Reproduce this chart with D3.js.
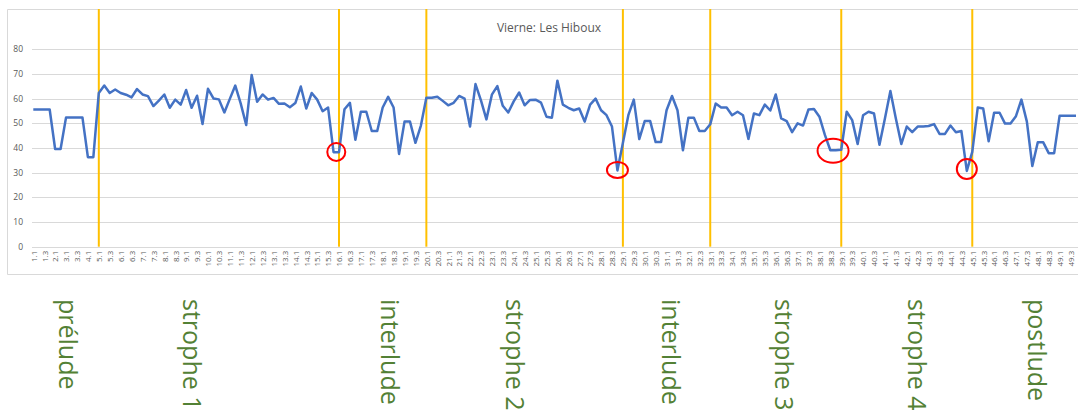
<!DOCTYPE html>
<html>
<head>
<meta charset="utf-8">
<script src="https://cdn.jsdelivr.net/npm/d3@7"></script>
<style>
  body { margin: 0; background: #fff; }
  svg { display: block; font-family: "Open Sans", sans-serif; }
</style>
</head>
<body>
<div id="chart"></div>
<script>

// beats per measure, the x labels are "measure.beat"
var measureBeats = [4, 2, 4, 2,
    4, 4, 4, 4, 4, 4, 4, 4, 4, 4, 4, 4, 4, 4, 4,
    4, 4, 4, 4, 4, 4, 4, 4, 4, 4, 4, 4, 4, 4, 4,
    4, 4, 4, 4, 4, 4, 4, 4, 4, 4, 4, 4, 4, 4, 4];

var values = [
    55.6, 55.6, 55.6, 55.6, 39.6, 39.6, 52.4, 52.4, 52.4, 52.4, 36.3, 36.3,
    62.3, 65.3, 62.3, 63.7, 62.3, 61.6, 60.5, 63.9, 61.7, 61.0, 57.0, 59.2,
    61.7, 56.3, 59.6, 57.6, 63.5, 56.3, 61.2, 49.7, 64.0, 60.1, 59.7, 54.4,
    59.9, 65.3, 58.0, 49.3, 69.6, 58.7, 61.7, 59.6, 60.3, 57.9, 58.0, 56.5,
    58.2, 64.9, 56.0, 62.3, 59.6, 54.9, 56.4, 38.3, 38.3, 55.7, 58.3, 43.3,
    54.7, 54.7, 46.9, 46.9, 56.4, 60.7, 56.4, 37.6, 50.7, 50.7, 42.1, 49.1,
    60.4, 60.4, 60.8, 59.1, 57.3, 58.3, 61.1, 60.0, 48.7, 65.9, 59.3, 51.6,
    61.6, 65.1, 57.1, 54.4, 58.9, 62.5, 57.3, 59.5, 59.6, 58.4, 52.7, 52.3,
    67.3, 57.6, 56.3, 55.3, 56.0, 50.7, 57.6, 60.0, 55.3, 53.3, 48.7, 30.9,
    42.0, 53.3, 59.6, 43.6, 50.9, 50.9, 42.4, 42.4, 55.3, 61.1, 55.3, 39.1,
    52.3, 52.3, 46.9, 46.9, 49.6, 58.0, 56.4, 56.4, 53.3, 54.7, 53.3, 43.7,
    54.0, 53.3, 57.6, 55.2, 61.7, 52.0, 50.9, 46.4, 50.0, 49.1, 55.6, 55.8,
    52.7, 45.3, 39.1, 39.1, 39.3, 54.7, 51.3, 41.6, 53.3, 54.7, 54.0, 41.3,
    52.0, 63.1, 52.0, 41.6, 48.7, 46.4, 48.7, 48.7, 48.9, 49.7, 45.7, 45.7,
    49.1, 46.4, 46.9, 30.7, 38.4, 56.4, 56.0, 42.7, 54.3, 54.3, 49.9, 49.9,
    52.9, 59.6, 50.7, 32.7, 42.3, 42.3, 37.9, 37.9, 53.1, 53.1, 53.1, 53.1];

var yTicks = [0, 10, 20, 30, 40, 50, 60, 70, 80];
var title = 'Vierne: Les Hiboux';

// yellow section boundaries
var boundaries = ['5.1', '16.1', '20.1', '29.1', '33.1', '39.1', '45.1'];
var sections = ['prélude', 'strophe 1', 'interlude', 'strophe 2', 'interlude', 'strophe 3', 'strophe 4', 'postlude'];

// red circles : categories they sit on and the value at their centre
var circleCats = [['15.4', '16.1'], ['28.4'], ['38.3', '38.4'], ['44.4']];
var circleVals = [38.4, 31.1, 38.9, 31.5];

// layout
var width = 1081;
var height = 418;
var plotLeft = 32;
var plotRight = 1078;
var sectionX = [68, 192, 390, 515, 671, 784, 917, 1037];
var circleR = [[9, 9], [10.5, 8], [15.5, 12], [10, 10]];

var cats = [];
measureBeats.forEach((n, m) => {
    for (var b = 1; b <= n; b++) cats.push((m + 1) + '.' + b);
});
var data = cats.map((c, i) => ({cat: c, value: values[i]}));

var svg = d3.select('#chart').append('svg')
    .attr('width', width)
    .attr('height', height);

var x = d3.scalePoint().domain(cats).range([33.3, 1076]);
var y = d3.scaleLinear().domain([0, 80]).range([246.7, 49.3]);

// chart border
svg.append('path')
    .attr('d', `M${plotRight},9.5H7.5V274.5H${plotRight}`)
    .attr('fill', 'none')
    .attr('stroke', '#d9d9d9');

// gridlines
svg.append('g')
    .selectAll('line')
    .data(yTicks)
    .join('line')
    .attr('x1', plotLeft)
    .attr('x2', plotRight)
    .attr('y1', d => Math.round(y(d)) + 0.5)
    .attr('y2', d => Math.round(y(d)) + 0.5)
    .attr('stroke', '#d9d9d9');

svg.append('g')
    .selectAll('text')
    .data(yTicks)
    .join('text')
    .attr('x', 23)
    .attr('y', d => y(d))
    .attr('dy', '0.35em')
    .attr('text-anchor', 'end')
    .attr('font-size', '8.5px')
    .attr('fill', '#595959')
    .text(d => d);

// x axis labels, every other category
var xAxis = d3.axisBottom(x)
    .tickValues(cats.filter((c, i) => i % 2 == 0))
    .tickSize(0);

var gx = svg.append('g')
    .attr('transform', `translate(0,${y(0)})`)
    .call(xAxis);
gx.select('.domain').remove();
gx.selectAll('text')
    .attr('transform', 'rotate(-90)')
    .attr('text-anchor', 'end')
    .attr('x', -4)
    .attr('y', 0)
    .attr('dy', '0.35em')
    .attr('font-family', '"Open Sans", sans-serif')
    .attr('font-size', '8px')
    .attr('fill', '#595959');

// title
svg.append('text')
    .attr('x', 549)
    .attr('y', 32)
    .attr('text-anchor', 'middle')
    .attr('font-size', '12px')
    .attr('fill', '#595959')
    .text(title);

// section boundaries
svg.append('g')
    .selectAll('line')
    .data(boundaries)
    .join('line')
    .attr('x1', d => x(d))
    .attr('x2', d => x(d))
    .attr('y1', 9)
    .attr('y2', y(0))
    .attr('stroke', '#ffc000')
    .attr('stroke-width', 2);

// the line
var line = d3.line()
    .x(d => x(d.cat))
    .y(d => y(d.value));

svg.append('path')
    .datum(data)
    .attr('d', line)
    .attr('fill', 'none')
    .attr('stroke', '#4472c4')
    .attr('stroke-width', 2.5)
    .attr('stroke-linejoin', 'round');

// red circles
svg.append('g')
    .selectAll('ellipse')
    .data(circleCats)
    .join('ellipse')
    .attr('cx', d => d3.mean(d, c => x(c)))
    .attr('cy', (d, i) => y(circleVals[i]))
    .attr('rx', (d, i) => circleR[i][0])
    .attr('ry', (d, i) => circleR[i][1])
    .attr('fill', 'none')
    .attr('stroke', '#ff0000')
    .attr('stroke-width', 2);

// section names
svg.append('g')
    .selectAll('text')
    .data(sections)
    .join('text')
    .attr('transform', (d, i) => `translate(${sectionX[i]},299)rotate(90)`)
    .attr('dy', '0.35em')
    .attr('font-size', '25px')
    .attr('fill', '#538135')
    .text(d => d);

</script>
</body>
</html>
